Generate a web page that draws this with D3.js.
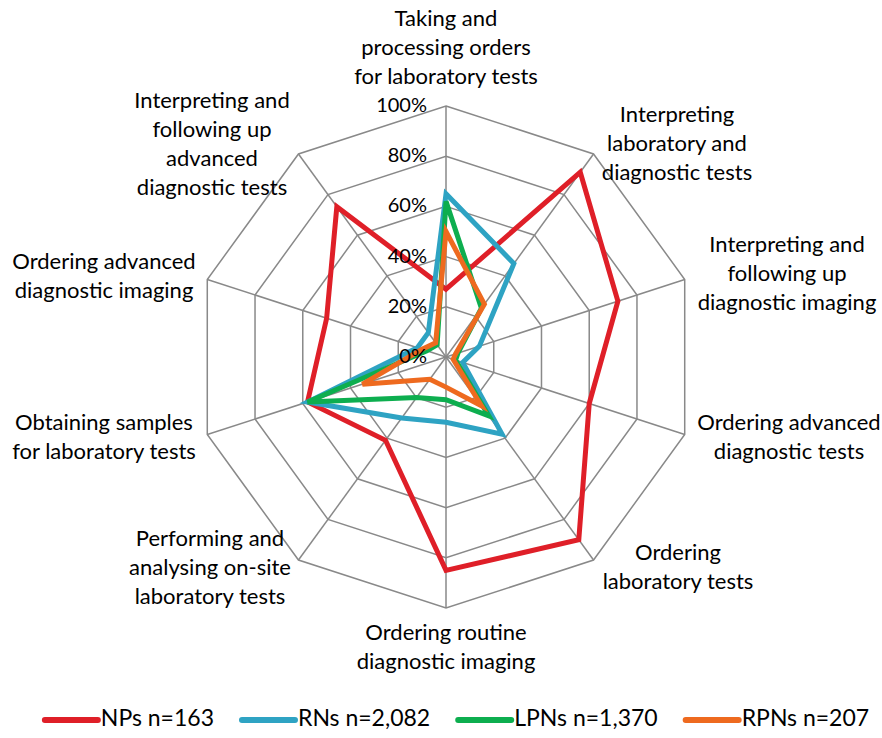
<!DOCTYPE html>
<html>
<head>
<meta charset="utf-8">
<script src="https://cdn.jsdelivr.net/npm/d3@7"></script>
<style>
  html, body { margin: 0; padding: 0; background: #fff; }
  svg { display: block; }
  text { font-family: Lato, "Open Sans", sans-serif; fill: #000; }
</style>
</head>
<body>
<svg id="chart" width="882" height="738"></svg>
<script>
// ---- data ----
const categories = [
  "Taking and processing orders for laboratory tests",
  "Interpreting laboratory and diagnostic tests",
  "Interpreting and following up diagnostic imaging",
  "Ordering advanced diagnostic tests",
  "Ordering laboratory tests",
  "Ordering routine diagnostic imaging",
  "Performing and analysing on-site laboratory tests",
  "Obtaining samples for laboratory tests",
  "Ordering advanced diagnostic imaging",
  "Interpreting and following up advanced diagnostic tests"
];
const categoryLines = [
  ["Taking and", "processing orders", "for laboratory tests"],
  ["Interpreting", "laboratory and", "diagnostic tests"],
  ["Interpreting and", "following up", "diagnostic imaging"],
  ["Ordering advanced", "diagnostic tests"],
  ["Ordering", "laboratory tests"],
  ["Ordering routine", "diagnostic imaging"],
  ["Performing and", "analysing on-site", "laboratory tests"],
  ["Obtaining samples", "for laboratory tests"],
  ["Ordering advanced", "diagnostic imaging"],
  ["Interpreting and", "following up", "advanced", "diagnostic tests"]
];
const seriesNames = ["NPs n=163", "RNs n=2,082", "LPNs n=1,370", "RPNs n=207"];
const NPs  = [27, 91, 72, 60, 90, 85, 41, 58, 50, 74];
const RNs  = [65, 46, 14, 7, 38, 26, 30, 58, 12, 12];
const LPNs = [62, 24, 5, 4, 29, 17, 20, 58, 8, 6];
const RPNs = [50, 26, 4, 3, 24, 12, 11, 35, 10, 7];
const tickValues = [0, 20, 40, 60, 80, 100];
const tickLabels = ["0%", "20%", "40%", "60%", "80%", "100%"];
const seriesColors = ["#DF1F28", "#2EA3C3", "#0DAE4F", "#EE6A1F"];

// ---- layout ----
const cx = 446, cy = 357, R = 251;
const labelFont = 22, tickFont = 20, legendFont = 23, lineH = 29;
// label block centers (first line center offset) relative to chart centre
const labelPos = [
  [0, -337], [231, -241], [341, -111], [343, 67], [232, 197],
  [0, 277], [-236, 183], [-342, 67], [-342, -94], [-234, -255]
];

const svg = d3.select("#chart");
const n = categories.length;
const angle = d3.scaleLinear().domain([0, n]).range([0, 2 * Math.PI]);
const r = d3.scaleLinear().domain([0, 100]).range([0, R]);
const pt = (i, v) => [cx + Math.sin(angle(i)) * r(v), cy - Math.cos(angle(i)) * r(v)];

const g = svg.append("g");

// grid rings
tickValues.filter(t => t > 0).forEach(t => {
  g.append("path")
    .attr("d", d3.line()(d3.range(n).map(i => pt(i, t))) + "Z")
    .attr("fill", "none").attr("stroke", "#898989").attr("stroke-width", 1.5);
});
// spokes
d3.range(n).forEach(i => {
  const [x, y] = pt(i, 100);
  g.append("line").attr("x1", cx).attr("y1", cy).attr("x2", x).attr("y2", y)
    .attr("stroke", "#898989").attr("stroke-width", 1.5);
});

// series
const allSeries = [NPs, RNs, LPNs, RPNs];
const lineGen = d3.line().curve(d3.curveLinearClosed);
allSeries.forEach((s, k) => {
  g.append("path")
    .attr("d", lineGen(s.map((v, i) => pt(i, v))))
    .attr("fill", "none").attr("stroke", seriesColors[k])
    .attr("stroke-width", 5).attr("stroke-linejoin", "miter");
});

// tick labels (drawn over the series)
tickValues.forEach((t, k) => {
  g.append("text")
    .attr("x", cx - 19).attr("y", cy - r(t) + 1)
    .attr("text-anchor", "end").attr("dominant-baseline", "middle")
    .attr("font-size", tickFont).text(tickLabels[k]);
});

// category labels
categoryLines.forEach((lines, i) => {
  const t = g.append("text").attr("text-anchor", "middle").attr("font-size", labelFont);
  lines.forEach((ln, j) => {
    t.append("tspan").attr("x", cx + labelPos[i][0])
      .attr("y", cy + labelPos[i][1] + j * lineH)
      .attr("dominant-baseline", "middle").text(ln);
  });
});

// legend
const lg = svg.append("g");
const swatch = 53, gapSw = 3, gapItem = 28, ly = 720;
let items = seriesNames.map((name, k) => {
  const it = lg.append("g");
  it.append("line").attr("x1", 0).attr("x2", swatch).attr("y1", 0).attr("y2", 0)
    .attr("stroke", seriesColors[k]).attr("stroke-width", 6).attr("stroke-linecap", "round");
  const tx = it.append("text").attr("x", swatch + gapSw).attr("y", 0)
    .attr("dominant-baseline", "middle").attr("font-size", legendFont).text(name);
  return { it, w: swatch + gapSw + tx.node().getComputedTextLength() };
});
const total = d3.sum(items, d => d.w) + gapItem * (items.length - 1);
let x0 = 457 - total / 2;
items.forEach(d => { d.it.attr("transform", `translate(${x0},${ly})`); x0 += d.w + gapItem; });
</script>
</body>
</html>
